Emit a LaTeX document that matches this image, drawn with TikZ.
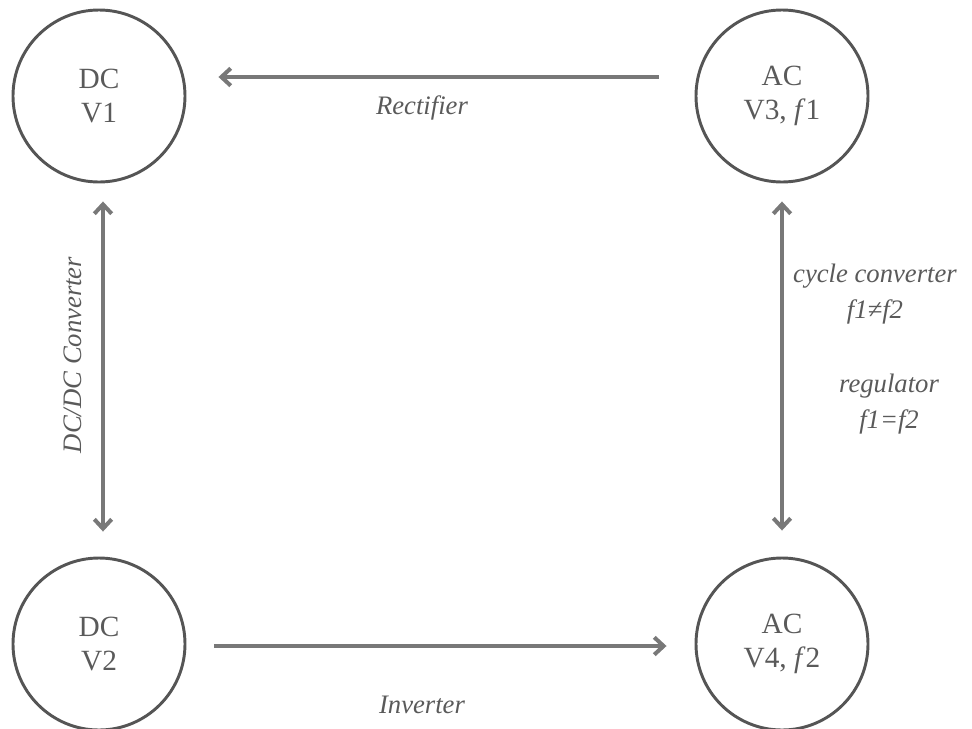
\documentclass[tikz,border=0pt]{standalone}
\usepackage{fontspec}
\setmainfont{Liberation Serif}
\usetikzlibrary{arrows.meta}
\definecolor{ringgray}{HTML}{555555}
\definecolor{arrowgray}{HTML}{787878}
\definecolor{textgray}{HTML}{5A5A5A}
\begin{document}
\begin{tikzpicture}[x=0.75pt, y=-0.75pt, font=\fontsize{20}{27}\selectfont, text=textgray]
    % --- Estilos ---
    \tikzset{
        state/.style={circle, draw=ringgray, line width=2.2pt, minimum size=129pt, inner sep=0pt, align=center, font=\fontsize{22}{25}\selectfont},
        conn/.style={draw=arrowgray, line width=3pt, -{Straight Barb[length=7pt, width=13pt]}},
        biconn/.style={conn, {Straight Barb[length=7pt, width=13pt]}-{Straight Barb[length=7pt, width=13pt]}},
        lbl/.style={font=\fontsize{20}{27}\selectfont\itshape, align=center}
    }
    \useasboundingbox (0,0) rectangle (972,729);

    % --- Estados ---
    \node[state] (dc1) at (99,96)   {DC\\V1};
    \node[state] (ac1) at (782,96)  {AC\\V3, \textit{f}1};
    \node[state] (dc2) at (99,644)  {DC\\V2};
    \node[state] (ac2) at (782,644) {AC\\V4, \textit{f}2};

    % --- Conversiones ---
    \draw[conn, shorten <=27pt, shorten >=24pt] ([yshift=14.25pt]ac1.west) -- ([yshift=14.25pt]dc1.east);
    \draw[conn, shorten <=21pt, shorten >=21pt] ([yshift=-1.5pt]dc2.east) -- ([yshift=-1.5pt]ac2.west);
    \draw[biconn, shorten <=13.5pt, shorten >=18.75pt] ([xshift=3pt]dc1.south) -- ([xshift=3pt]dc2.north);
    \draw[biconn, shorten <=13.5pt, shorten >=19.5pt] (ac1.south) -- (ac2.north);

    % --- Etiquetas ---
    \node[lbl] (rect) at (422,108) {Rectifier};
    \node[lbl] (inv)  at (422,705) {Inverter};
    \node[lbl, rotate=90] (dcdc) at (73,355) {DC/DC Converter};
    \node[lbl] (cyc) at (875,294) {cycle converter\\f1≠f2};
    \node[lbl] (reg) at (889,404) {regulator\\f1=f2};
\end{tikzpicture}
\end{document}
